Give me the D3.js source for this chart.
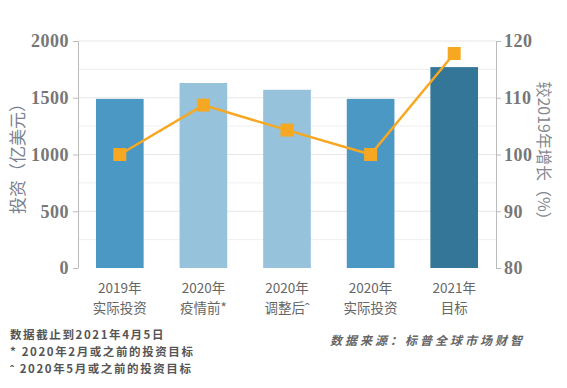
<!DOCTYPE html>
<html>
<head>
<meta charset="utf-8">
<script src="https://cdn.jsdelivr.net/npm/d3@7"></script>
<style>
  body { margin: 0; background: #fff; }
  svg { display: block; }
</style>
</head>
<body>
<svg id="chart"></svg>
<script>
// values
const categories = [["2019年", "实际投资"], ["2020年", "疫情前*"], ["2020年", "调整后ˆ"], ["2020年", "实际投资"], ["2021年", "目标"]]
const investment = [1490, 1630, 1570, 1490, 1770]
const growth = [100, 108.7, 104.3, 100, 117.8]
const barColors = ["#4a98c3", "#96c2db", "#96c2db", "#4a98c3", "#337697"]
const leftTicks = [0, 500, 1000, 1500, 2000]
const rightTicks = [80, 90, 100, 110, 120]
const notes = ["数据截止到2021年4月5日", "* 2020年2月或之前的投资目标", "ˆ 2020年5月或之前的投资目标"]
const source = "数据来源：标普全球市场财智"

const width = 567, height = 388
const margin = {top: 41, right: 71, bottom: 120, left: 78}

const svg = d3.select("#chart")
  .attr("width", width)
  .attr("height", height)

const x = d3.scaleBand()
  .domain(d3.range(categories.length))
  .range([margin.left, width - margin.right])
  .paddingInner(0.43)
  .paddingOuter(0.215)

const y = d3.scaleLinear()
  .domain([0, 2000])
  .range([height - margin.bottom, margin.top])

const y2 = d3.scaleLinear()
  .domain([80, 120])
  .range([height - margin.bottom, margin.top])

// gridlines every 250
svg.append("g")
  .selectAll("line")
  .data(d3.range(250, 2001, 250))
  .join("line")
    .attr("x1", margin.left)
    .attr("x2", width - margin.right)
    .attr("y1", d => y(d))
    .attr("y2", d => y(d))
    .attr("stroke", d => d % 500 == 0 ? "#e6e6e6" : "#efefef")
    .attr("stroke-width", 1)

const tickFont = g => g
  .call(g => g.selectAll(".tick text")
    .attr("font-family", "'Liberation Serif', serif")
    .attr("font-size", 18)
    .attr("font-weight", "bold")
    .attr("letter-spacing", 0.5)
    .attr("fill", "#777"))
  .call(g => g.selectAll(".tick line").attr("stroke", "#bbb"))
  .call(g => g.select(".domain").attr("stroke", "#bbb"))

svg.append("g")
  .attr("transform", `translate(${margin.left},0)`)
  .call(d3.axisLeft(y).tickValues(leftTicks).tickFormat(d3.format("d")).tickSize(5).tickPadding(4).tickSizeOuter(0))
  .call(tickFont)

svg.append("g")
  .attr("transform", `translate(${width - margin.right},0)`)
  .call(d3.axisRight(y2).tickValues(rightTicks).tickFormat(d3.format("d")).tickSize(5).tickPadding(3).tickSizeOuter(0))
  .call(tickFont)

// bars
svg.append("g")
  .selectAll("rect")
  .data(investment)
  .join("rect")
    .attr("x", (d, i) => x(i))
    .attr("width", x.bandwidth())
    .attr("y", d => y(d))
    .attr("height", d => y(0) - y(d))
    .attr("fill", (d, i) => barColors[i])

// growth line
const line = d3.line()
  .x((d, i) => x(i) + x.bandwidth() / 2)
  .y(d => y2(d))

svg.append("path")
  .datum(growth)
  .attr("fill", "none")
  .attr("stroke", "#f7a823")
  .attr("stroke-width", 2.5)
  .attr("d", line)

const ms = 13
svg.append("g")
  .selectAll("rect")
  .data(growth)
  .join("rect")
    .attr("x", (d, i) => x(i) + x.bandwidth() / 2 - ms / 2)
    .attr("y", d => y2(d) - ms / 2)
    .attr("width", ms)
    .attr("height", ms)
    .attr("fill", "#f7a823")

// category labels, one text per line
categories.forEach((lines, i) => {
  lines.forEach((t, j) => {
    svg.append("text")
      .attr("font-family", "'Noto Sans CJK SC', sans-serif")
      .attr("font-size", 13.5)
      .attr("fill", "#666")
      .attr("text-anchor", "middle")
      .attr("x", x(i) + x.bandwidth() / 2)
      .attr("y", 293 + j * 19.8)
      .text(t)
  })
})

// axis titles
svg.append("text")
  .attr("transform", `translate(24,${(y(0) + y(2000)) / 2}) rotate(-90)`)
  .attr("text-anchor", "middle")
  .attr("font-family", "'Noto Sans CJK SC', sans-serif")
  .attr("font-size", 17)
  .attr("fill", "#7c7f8f")
  .text("投资（亿美元）")

svg.append("text")
  .attr("transform", `translate(538,${(y(0) + y(2000)) / 2}) rotate(90)`)
  .attr("text-anchor", "middle")
  .attr("font-family", "'Noto Sans CJK SC', sans-serif")
  .attr("font-size", 16)
  .attr("fill", "#858890")
  .text("较2019年增长（%）")

// footnotes
svg.append("g")
  .selectAll("text")
  .data(notes)
  .join("text")
    .attr("x", 10)
    .attr("y", (d, i) => 339 + i * 17)
    .attr("font-family", "'Noto Sans CJK SC', sans-serif")
    .attr("font-size", 11.5)
    .attr("font-weight", "bold")
    .attr("letter-spacing", 1.6)
    .attr("fill", "#555")
    .text(d => d)

svg.append("text")
  .attr("x", 330)
  .attr("y", 345)
  .attr("font-family", "'Noto Sans CJK SC', sans-serif")
  .attr("font-size", 12)
  .attr("font-style", "italic")
  .attr("font-weight", "bold")
  .attr("letter-spacing", 3)
  .attr("fill", "#666")
  .text(source)
</script>
</body>
</html>
